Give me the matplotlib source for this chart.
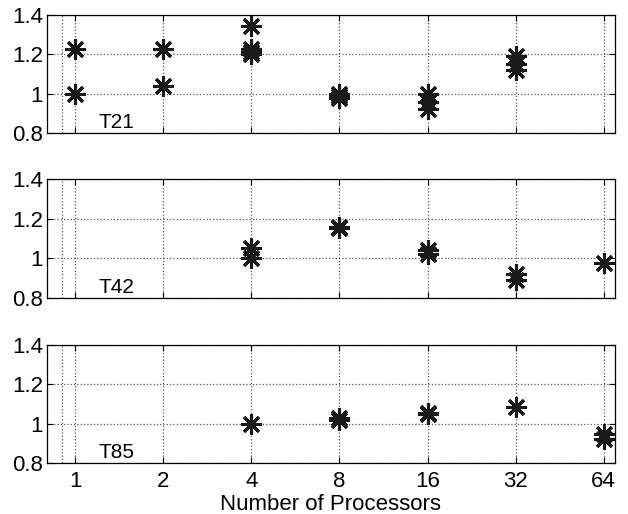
import matplotlib
matplotlib.use("Agg")
import matplotlib.pyplot as plt
from matplotlib.ticker import FixedLocator, NullLocator

plt.rcParams['font.family'] = ['Liberation Sans', 'DejaVu Sans']

# values
procs_t21 = [1, 1, 2, 2, 4, 4, 4, 4, 8, 8, 8, 16, 16, 16, 32, 32, 32]
ratio_t21 = [1.225, 1.0, 1.225, 1.04, 1.345, 1.225, 1.21, 1.20,
             1.0, 0.99, 0.98, 1.0, 0.96, 0.92, 1.19, 1.15, 1.12]

procs_t42 = [4, 4, 8, 8, 16, 16, 32, 32, 64]
ratio_t42 = [1.05, 1.0, 1.16, 1.155, 1.04, 1.02, 0.92, 0.89, 0.975]

procs_t85 = [4, 8, 8, 16, 16, 32, 64, 64]
ratio_t85 = [1.0, 1.03, 1.02, 1.05, 1.055, 1.085, 0.95, 0.92]

xticks = [1, 2, 4, 8, 16, 32, 64]
yticks = [0.8, 1.0, 1.2, 1.4]
ytick_labels = ['0.8', '1', '1.2', '1.4']
panels = [('T21', procs_t21, ratio_t21),
          ('T42', procs_t42, ratio_t42),
          ('T85', procs_t85, ratio_t85)]

fig = plt.figure(figsize=(6.28, 5.14), dpi=100)
W, H = 628, 514
# pixel boxes of each panel (top, bottom)
boxes = [(15, 133), (179, 298), (345, 463)]
left, right = 47, 615

for i, (name, px, py) in enumerate(panels):
    top, bot = boxes[i]
    ax = fig.add_axes([left / W, 1 - bot / H, (right - left) / W, (bot - top) / H])
    ax.set_xscale('log', base=2)
    ax.set_xlim(0.8, 70)
    ax.set_ylim(0.8, 1.4)
    ax.xaxis.set_major_locator(FixedLocator(xticks))
    ax.xaxis.set_minor_locator(NullLocator())
    ax.set_yticks(yticks)
    ax.set_yticklabels(ytick_labels, fontsize=16)
    if i == 2:
        ax.set_xticklabels([str(t) for t in xticks], fontsize=16)
        ax.set_xlabel('Number of Processors', fontsize=16, labelpad=1)
    else:
        ax.set_xticklabels([])
    ax.tick_params(direction='in', top=True, right=True, length=4, width=0.8)
    ax.tick_params(axis='y', pad=3)
    ax.tick_params(axis='x', pad=6)
    ax.grid(True, linestyle=':', color='0.35', linewidth=0.9)
    ax.axvline(0.9, linestyle=':', color='0.35', linewidth=0.9)
    for s in ax.spines.values():
        s.set_linewidth(0.9)
    ax.plot(px, py, linestyle='none', marker=(8, 2, 0), markersize=15,
            markeredgewidth=2.2, color='#1a1a1a', clip_on=False, zorder=3)
    ax.text(1.2, 0.805, name, fontsize=15, va='bottom', ha='left')

fig.savefig('out.png', dpi=100)
